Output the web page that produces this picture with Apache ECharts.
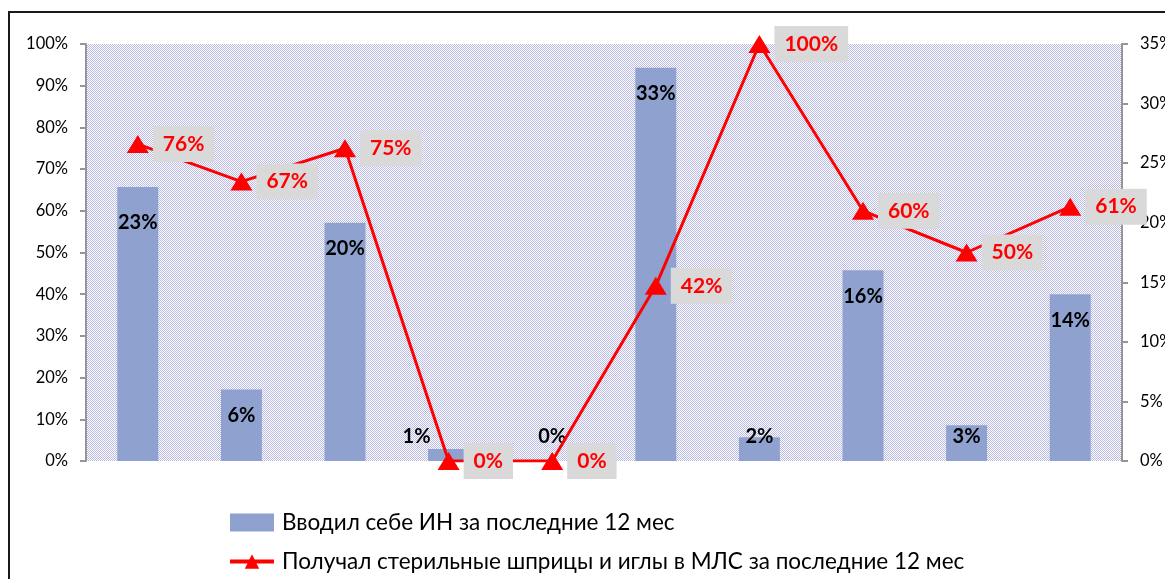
<!DOCTYPE html>
<html>
<head>
<meta charset="utf-8">
<script src="https://cdn.jsdelivr.net/npm/echarts@6/dist/echarts.min.js"></script>
<style>
  html, body { margin: 0; padding: 0; background: #fff; }
  #main { width: 1165px; height: 579px; }
</style>
</head>
<body>
<div id="main"></div>
<script>
// categories are unlabeled in the source picture
var categories = ['1', '2', '3', '4', '5', '6', '7', '8', '9', '10'];
var injectedPct = [23, 6, 20, 1, 0, 33, 2, 16, 3, 14];      // bars, right axis
var syringesPct = [76, 67, 75, 0, 0, 42, 100, 60, 50, 61];  // line, left axis
var barName = 'Вводил себе ИН за последние 12 мес';
var lineName = 'Получал стерильные шприцы и иглы в МЛС за последние 12 мес';

var FONT = 'Lato, "Open Sans", sans-serif';

// checkered plot background like the excel pattern fill
function makePattern() {
  var c = document.createElement('canvas');
  c.width = 2; c.height = 2;
  var ctx = c.getContext('2d');
  ctx.fillStyle = '#ffffff';
  ctx.fillRect(0, 0, 2, 2);
  ctx.fillStyle = '#b9bbe6';
  ctx.fillRect(0, 0, 1, 1);
  ctx.fillRect(1, 1, 1, 1);
  return c;
}

var barData = injectedPct.map(function (v, i) {
  var item = { value: v };
  if (v < 5) {
    item.label = { position: 'insideBottom', distance: 14 };
    if (i == 3) item.label.offset = [-32, 0];
  } else if (i == 0) {
    item.label = { offset: [0, 10] };
  }
  return item;
});

var myChart = echarts.init(document.getElementById('main'));

option = {
  animation: false,
  textStyle: { fontFamily: FONT },
  graphic: [{
    type: 'rect',
    shape: { x: 9, y: 12, width: 1200, height: 600 },
    style: { fill: 'none', stroke: '#1a1a1a', lineWidth: 2 },
    silent: true
  }],
  grid: {
    left: 86, right: 43, top: 44, bottom: 118,
    outerBoundsMode: 'none',
    containLabel: false,
    show: true,
    borderWidth: 0,
    backgroundColor: { image: makePattern(), repeat: 'repeat' }
  },
  legend: {
    orient: 'vertical',
    left: 228,
    top: 511,
    padding: 0,
    itemGap: 16,
    itemWidth: 44,
    itemHeight: 18,
    textStyle: { fontSize: 22.5, color: '#000', fontFamily: FONT, padding: [0, 0, 0, 3] },
    data: [
      { name: barName, icon: 'rect', itemStyle: { borderWidth: 0 } },
      { name: lineName, lineStyle: { width: 4 } }
    ]
  },
  xAxis: {
    type: 'category',
    data: categories,
    axisLine: { show: false },
    axisTick: { show: false },
    axisLabel: { show: false }
  },
  yAxis: [
    {
      type: 'value',
      min: 0, max: 100, interval: 10,
      position: 'left',
      splitLine: { show: false },
      axisLine: { show: true, lineStyle: { color: '#969696', width: 2 } },
      axisTick: { show: true, length: 6, lineStyle: { color: '#969696', width: 2 } },
      axisLabel: { formatter: '{value}%', fontSize: 16.5, color: '#000', margin: 18 }
    },
    {
      type: 'value',
      min: 0, max: 35, interval: 5,
      position: 'right',
      splitLine: { show: false },
      axisLine: { show: true, lineStyle: { color: '#969696', width: 2 } },
      axisTick: { show: true, length: 6, lineStyle: { color: '#969696', width: 2 } },
      axisLabel: { formatter: '{value}%', fontSize: 16.5, color: '#000', margin: 18 }
    }
  ],
  series: [
    {
      name: barName,
      type: 'bar',
      yAxisIndex: 1,
      barWidth: 41,
      itemStyle: { color: '#8fa2cf' },
      label: {
        show: true,
        position: 'insideTop',
        distance: 16,
        formatter: '{c}%',
        fontSize: 20,
        fontWeight: 'bold',
        color: '#000'
      },
      data: barData,
      z: 2
    },
    {
      name: lineName,
      type: 'line',
      yAxisIndex: 0,
      symbol: 'triangle',
      symbolSize: [22, 18],
      lineStyle: { color: '#ff0000', width: 3 },
      itemStyle: { color: '#ff0000' },
      label: {
        show: true,
        position: 'right',
        distance: 4,
        formatter: '{c}%',
        fontSize: 21,
        fontWeight: 'bold',
        color: '#ff0000',
        backgroundColor: '#d9d9d9',
        padding: [8, 10, 7, 10]
      },
      data: syringesPct,
      z: 3
    }
  ]
};
myChart.setOption(option);
</script>
</body>
</html>
